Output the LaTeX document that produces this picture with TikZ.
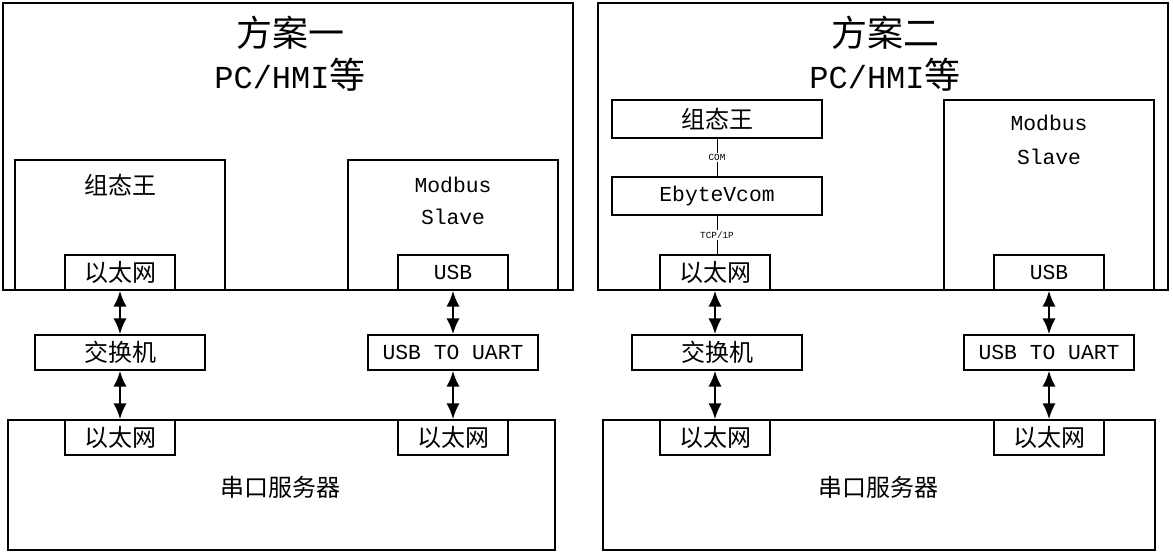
\documentclass[tikz,border=0pt]{standalone}
\usepackage{fontspec}
\setmainfont{Liberation Mono}
\newfontfamily\cjk{Noto Sans CJK SC}
\usetikzlibrary{arrows.meta}
\begin{document}
\begin{tikzpicture}[x=0.75pt,y=-0.75pt,
  box/.style={draw,line width=0.9pt,inner sep=0pt},
  txt/.style={inner sep=0pt,font=\fontsize{16}{18}\selectfont},
  ttl/.style={inner sep=0pt,font=\fontsize{24}{26}\selectfont},
  dbl/.style={line width=2pt,{Latex[length=12pt,width=10pt]}-{Latex[length=12pt,width=10pt]}},
  thin/.style={draw,line width=0.5pt},
  tiny/.style={inner sep=1pt,fill=white,font=\fontsize{7}{8}\selectfont}]
\useasboundingbox (0,0) rectangle (1173,553);
\newcommand\cj[1]{{\cjk\fontsize{18}{20}\selectfont #1}}
\newcommand\cjt[1]{{\cjk\fontsize{27}{30}\selectfont #1}}
% ---------- left
\draw[box] (3,3) rectangle (573,290);
\node[ttl] (t1) at (290,33) {\cjt{方案一}};
\node[ttl] (t2) at (290,75) {PC/HMI\cjt{等}};
\draw[box] (15,160) rectangle (225,290);
\node[txt] (zl) at (120,185) {\cj{组态王}};
\node[box,txt,minimum width=82.5pt,minimum height=26.25pt] (e1) at (120,272.5) {\cj{以太网}};
\draw[box] (348,160) rectangle (558,290);
\node[txt] at (453,185) {Modbus};
\node[txt] at (453,217) {Slave};
\node[box,txt,minimum width=82.5pt,minimum height=26.25pt] (u1) at (453,272.5) {USB};
\node[box,txt,minimum width=127.5pt,minimum height=26.25pt] (s1) at (120,352.5) {\cj{交换机}};
\node[box,txt,minimum width=127.5pt,minimum height=26.25pt] (c1) at (453,352.5) {USB TO UART};
\draw[box] (8,420) rectangle (555,550);
\node[box,txt,minimum width=82.5pt,minimum height=26.25pt] (b1) at (120,437.5) {\cj{以太网}};
\node[box,txt,minimum width=82.5pt,minimum height=26.25pt] (b2) at (453,437.5) {\cj{以太网}};
\node[txt] (sv1) at (280,487) {\cj{串口服务器}};
\draw[dbl] (e1.south) -- (s1.north);
\draw[dbl] (s1.south) -- (b1.north);
\draw[dbl] (u1.south) -- (c1.north);
\draw[dbl] (c1.south) -- (b2.north);
% ---------- right
\draw[box] (598,3) rectangle (1168,290);
\node[ttl] (t3) at (885,33) {\cjt{方案二}};
\node[ttl] (t4) at (885,75) {PC/HMI\cjt{等}};
\node[box,txt,minimum width=157.5pt,minimum height=28.5pt] (z2) at (717,119) {\cj{组态王}};
\node[box,txt,minimum width=157.5pt,minimum height=28.5pt] (ev) at (717,196) {EbyteVcom};
\node[box,txt,minimum width=82.5pt,minimum height=26.25pt] (e2) at (715,272.5) {\cj{以太网}};
\draw[thin] (z2.south) -- node[tiny] {COM} (ev.north);
\draw[thin] (ev.south) -- node[tiny] {TCP/1P} (ev.south|-e2.north);
\draw[box] (944,100) rectangle (1154,290);
\node[txt] at (1049,123) {Modbus};
\node[txt] at (1049,157) {Slave};
\node[box,txt,minimum width=82.5pt,minimum height=26.25pt] (u2) at (1049,272.5) {USB};
\node[box,txt,minimum width=127.5pt,minimum height=26.25pt] (s2) at (717,352.5) {\cj{交换机}};
\node[box,txt,minimum width=127.5pt,minimum height=26.25pt] (c2) at (1049,352.5) {USB TO UART};
\draw[box] (603,420) rectangle (1155,550);
\node[box,txt,minimum width=82.5pt,minimum height=26.25pt] (b3) at (715,437.5) {\cj{以太网}};
\node[box,txt,minimum width=82.5pt,minimum height=26.25pt] (b4) at (1049,437.5) {\cj{以太网}};
\node[txt] (sv2) at (878,487) {\cj{串口服务器}};
\draw[dbl] (e2.south) -- (e2.south|-s2.north);
\draw[dbl] (e2.south|-s2.south) -- (b3.north);
\draw[dbl] (u2.south) -- (c2.north);
\draw[dbl] (c2.south) -- (b4.north);
\end{tikzpicture}
\end{document}
